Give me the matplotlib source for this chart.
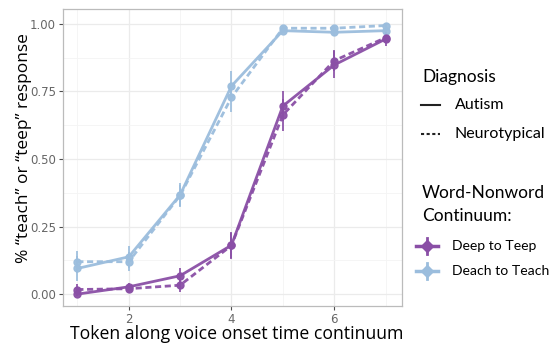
import numpy as np
import matplotlib
matplotlib.use("Agg")
import matplotlib.pyplot as plt
from matplotlib.lines import Line2D
from matplotlib.ticker import MultipleLocator, FormatStrFormatter

# datos
token = [1, 2, 3, 4, 5, 6, 7]

teach_aut = [0.095, 0.138, 0.367, 0.770, 0.975, 0.969, 0.975]
teach_nt = [0.120, 0.120, 0.365, 0.728, 0.984, 0.984, 0.994]
teep_aut = [0.000, 0.027, 0.068, 0.181, 0.696, 0.848, 0.944]
teep_nt = [0.017, 0.020, 0.033, 0.180, 0.663, 0.864, 0.949]

teach_aut_se = [0.045, 0.040, 0.045, 0.055, 0.010, 0.015, 0.015]
teach_nt_se = [0.040, 0.035, 0.040, 0.055, 0.008, 0.010, 0.008]
teep_aut_se = [0.008, 0.015, 0.030, 0.050, 0.055, 0.050, 0.025]
teep_nt_se = [0.020, 0.015, 0.025, 0.045, 0.060, 0.040, 0.020]

diag_labels = ["Autism", "Neurotypical"]
cont_labels = ["Deep to Teep", "Deach to Teach"]

purple = "#8A4FA6"
blue = "#9BBDDD"
lab_font = ["Open Sans", "DejaVu Sans"]
leg_font = ["Lato", "DejaVu Sans"]

W, H = 550, 345
fig = plt.figure(figsize=(5.5, 3.45), dpi=100)
ax = fig.add_axes([0.114, 0.113, 0.616, 0.860])

dash = (0, (2.2, 1.3))
series = [
    (teach_aut, teach_aut_se, blue, "-"),
    (teach_nt, teach_nt_se, blue, dash),
    (teep_aut, teep_aut_se, purple, "-"),
    (teep_nt, teep_nt_se, purple, dash),
]
for y, e, c, ls in series:
    ax.errorbar(token, y, yerr=e, color=c, ls=ls, lw=2.0, marker="o", ms=5,
                elinewidth=1.3, capsize=0, alpha=0.95)

ax.set_xlim(0.715, 7.31)
ax.set_ylim(-0.044, 1.054)
ax.xaxis.set_major_locator(MultipleLocator(2))
ax.xaxis.set_minor_locator(MultipleLocator(1))
ax.yaxis.set_major_locator(MultipleLocator(0.25))
ax.yaxis.set_minor_locator(MultipleLocator(0.125))
ax.yaxis.set_major_formatter(FormatStrFormatter("%.2f"))
ax.grid(True, which="major", color="#EBEBEB", lw=0.9)
ax.grid(True, which="minor", color="#F4F4F4", lw=0.6)
ax.set_axisbelow(True)
ax.tick_params(which="major", colors="#4D4D4D", labelcolor="#666666",
               labelsize=8.5, length=3, width=0.8, pad=2)
ax.tick_params(which="minor", length=0)
for s in ax.spines.values():
    s.set_color("#BBBBBB")
    s.set_linewidth(0.9)


def fx(x):
    return x / W


def fy(y):
    return 1 - y / H


# titulos de ejes como texto de figura
fig.text(fx(237), fy(334), "Token along voice onset time continuum", fontsize=12.7,
         family=lab_font, ha="center", va="center")
fig.text(fx(24), fy(148), "% \u201cteach\u201d or \u201cteep\u201d response", fontsize=12.5,
         family=lab_font, ha="center", va="center", rotation=90)

# leyenda dibujada a mano (posiciones en pixeles)
fig.text(fx(422), fy(77), "Diagnosis", family=leg_font, fontsize=12.5, va="center")
diag_ls = ["-", (0, (1.5, 1.2))]
for i, (lab, ls) in enumerate(zip(diag_labels, diag_ls)):
    yy = 105 + 29 * i
    fig.add_artist(Line2D([fx(421), fx(440)], [fy(yy), fy(yy)], color="#222222",
                          lw=1.5, ls=ls, transform=fig.transFigure))
    fig.text(fx(455), fy(yy), lab, family=leg_font, fontsize=11.5, va="center")

fig.text(fx(422), fy(193), "Word-Nonword", family=leg_font, fontsize=12.5, va="center")
fig.text(fx(422), fy(216), "Continuum:", family=leg_font, fontsize=12.5, va="center")
for i, (lab, c) in enumerate(zip(cont_labels, [purple, blue])):
    yy = 246 + 25 * i
    fig.add_artist(Line2D([fx(416), fx(438)], [fy(yy), fy(yy)], color=c, lw=2.5,
                          transform=fig.transFigure))
    fig.add_artist(Line2D([fx(427), fx(427)], [fy(yy - 8), fy(yy + 8)], color=c, lw=2,
                          transform=fig.transFigure))
    fig.add_artist(Line2D([fx(427)], [fy(yy)], color=c, marker="D", ms=6,
                          transform=fig.transFigure))
    fig.text(fx(452), fy(yy), lab, family=leg_font, fontsize=10.1, va="center")

fig.savefig("out.png", dpi=100)
